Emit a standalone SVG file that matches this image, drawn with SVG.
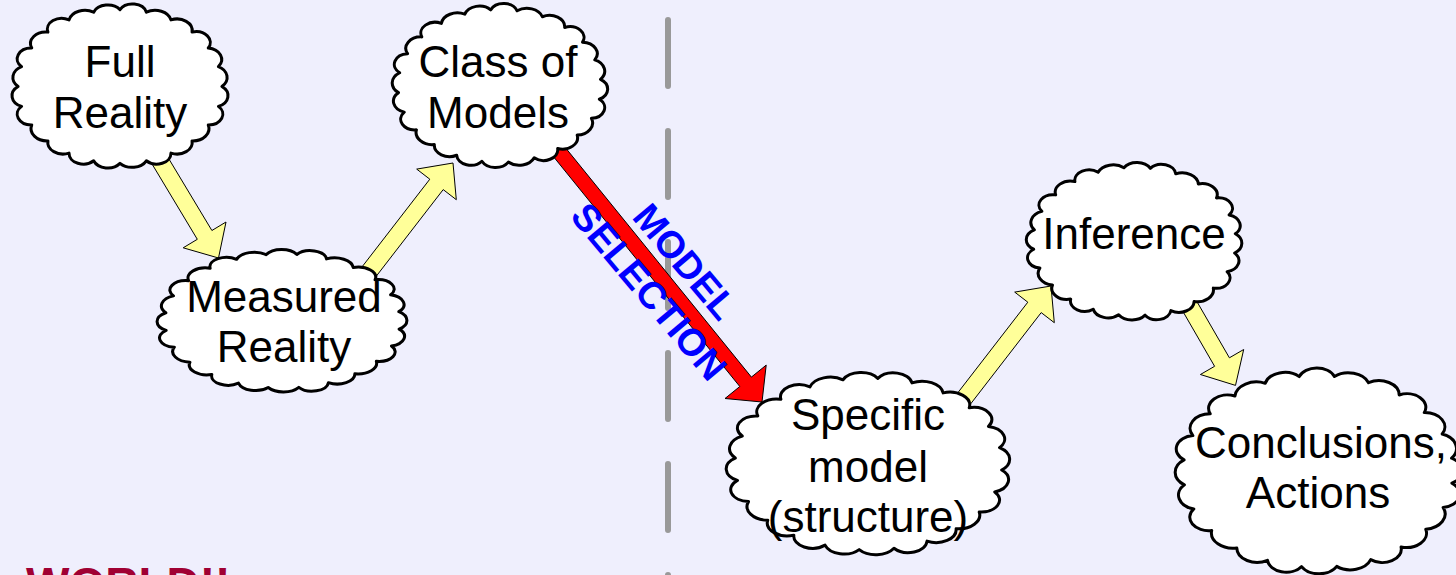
<svg xmlns="http://www.w3.org/2000/svg" xmlns:xlink="http://www.w3.org/1999/xlink" width="1456" height="575" viewBox="0 0 1456 575">
<style>
.bg{fill:#EFEFFD}
.cloud{fill:#FFFFFF;stroke:#000000;stroke-width:3;stroke-linejoin:round;vector-effect:non-scaling-stroke}
.lbl{font-family:"Liberation Sans",Arial,sans-serif;font-size:44px;fill:#000000;text-anchor:middle}
.yarrow{fill:#FFFF99;stroke:#000000;stroke-width:1;stroke-linejoin:miter}
.rarrow{fill:#FF0000;stroke:#000000;stroke-width:1;stroke-linejoin:miter}
.sel{font-family:"Liberation Sans",Arial,sans-serif;font-size:38px;font-weight:bold;fill:#0000FF;text-anchor:middle}
.divider{stroke:#999999;stroke-width:6;stroke-linecap:round;stroke-dasharray:66 45;fill:none}
.world{font-family:"Liberation Sans",Arial,sans-serif;font-size:46px;font-weight:bold;fill:#A00033}
</style>
<defs>
<path id="cloudShape" class="cloud" d="M100,0 A15,15 0 0 1 96.59,25.88 A14,14 0 0 1 86.60,50 A16,16 0 0 1 70.71,70.71 A15,15 0 0 1 50,86.60 A14,14 0 0 1 25.88,96.59 A16,16 0 0 1 0,100 A15,15 0 0 1 -25.88,96.59 A14,14 0 0 1 -50,86.60 A15,15 0 0 1 -70.71,70.71 A16,16 0 0 1 -86.60,50 A14,14 0 0 1 -96.59,25.88 A15,15 0 0 1 -100,0 A16,16 0 0 1 -96.59,-25.88 A14,14 0 0 1 -86.60,-50 A15,15 0 0 1 -70.71,-70.71 A14,14 0 0 1 -50,-86.60 A16,16 0 0 1 -25.88,-96.59 A15,15 0 0 1 0,-100 A14,14 0 0 1 25.88,-96.59 A16,16 0 0 1 50,-86.60 A15,15 0 0 1 70.71,-70.71 A14,14 0 0 1 86.60,-50 A15,15 0 0 1 96.59,-25.88 A16,16 0 0 1 100,0 Z"/>
</defs>
<rect class="bg" x="0" y="0" width="1456" height="575"/>
<line class="divider" x1="668" y1="20" x2="668" y2="600"/>
<text class="world" x="26" y="600">WORLD!!</text>
<g id="connectors">
<polygon class="yarrow" points="149.4,159.6 197.3,239.3 183.2,247.8 218.5,258 226.0,222.0 211.9,230.5 164.0,150.8"/>
<polygon class="yarrow" points="368.0,286.9 443.2,189.6 456.3,199.7 453,163 416.7,169.1 429.8,179.2 354.6,276.5"/>
<polygon class="rarrow" points="542.0,142.5 739.8,386.5 725.0,398.5 762,402 766.2,365.1 751.4,377.1 553.6,133.1"/>
<polygon class="yarrow" points="966.0,409.9 1041.2,312.6 1054.3,322.7 1051,286 1014.7,292.1 1027.8,302.2 952.6,399.5"/>
<polygon class="yarrow" points="1168.1,285.8 1214.6,366.3 1200.4,374.5 1235.5,385.4 1243.7,349.5 1229.4,357.8 1182.9,277.3"/>
<g id="model-selection-label">
<text class="sel" transform="translate(675,270) rotate(50)">MODEL</text>
<text class="sel" transform="translate(639,300) rotate(50)">SELECTION</text>
</g>
</g>
<g id="full-reality">
<use xlink:href="#cloudShape" transform="translate(120,86.5) scale(1.019,0.769)"/>
<text class="lbl" x="120" y="77">Full</text>
<text class="lbl" x="120" y="128">Reality</text>
</g>
<g id="measured-reality">
<use xlink:href="#cloudShape" transform="translate(282.5,321) scale(1.175,0.670) rotate(7)"/>
<text class="lbl" x="284" y="312">Measured</text>
<text class="lbl" x="284" y="362">Reality</text>
</g>
<g id="class-of-models">
<use xlink:href="#cloudShape" transform="translate(499.5,86) scale(1.014,0.764) rotate(-5)"/>
<text class="lbl" x="498" y="77">Class of</text>
<text class="lbl" x="498" y="128">Models</text>
</g>
<g id="specific-model">
<use xlink:href="#cloudShape" transform="translate(868.5,464) scale(1.335,0.858) rotate(4)"/>
<text class="lbl" x="868" y="430">Specific</text>
<text class="lbl" x="868" y="482">model</text>
<text class="lbl" x="868" y="532">(structure)</text>
</g>
<g id="inference">
<use xlink:href="#cloudShape" transform="translate(1134.5,241.5) scale(1.014,0.741) rotate(9)"/>
<text class="lbl" x="1134" y="249">Inference</text>
</g>
<g id="conclusions-actions">
<use xlink:href="#cloudShape" transform="translate(1318,471.5) scale(1.349,0.958) rotate(-8)"/>
<text class="lbl" x="1321" y="458">Conclusions,</text>
<text class="lbl" x="1318" y="508">Actions</text>
</g>
</svg>
